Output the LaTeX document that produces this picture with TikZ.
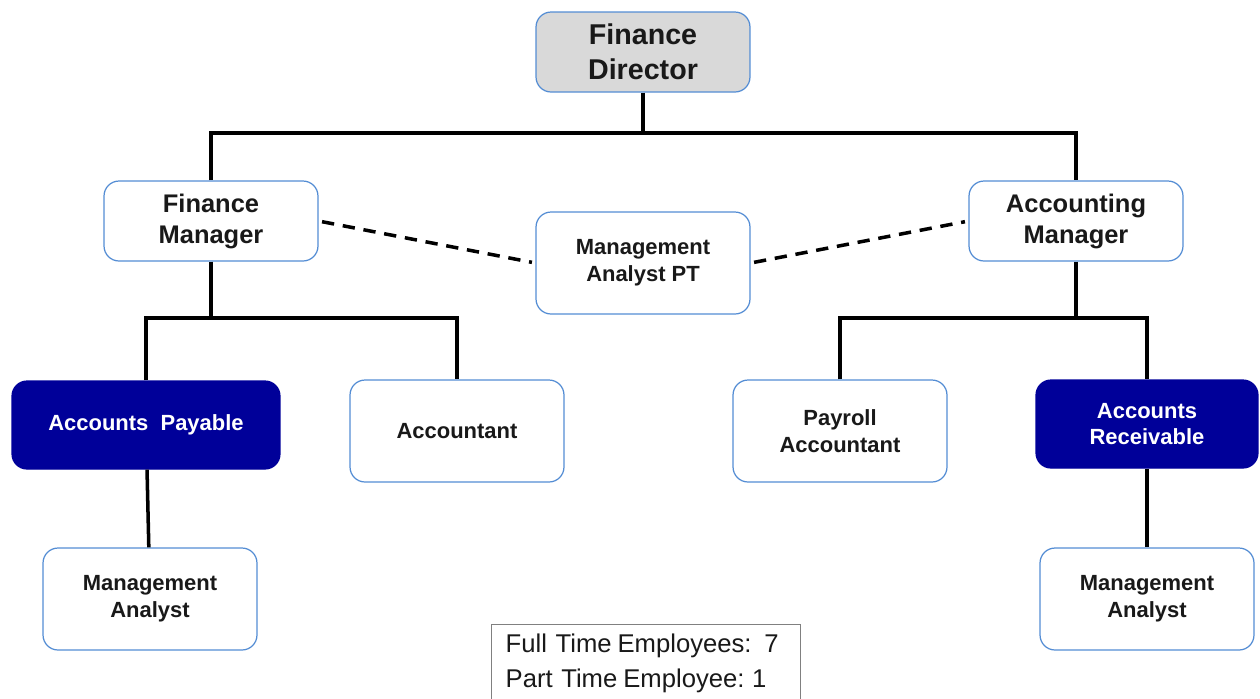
\documentclass[tikz,border=0pt]{standalone}
\usepackage{fontspec}
\setmainfont{Liberation Sans}
\usepackage{xcolor}
\usetikzlibrary{positioning}

\definecolor{boxline}{RGB}{84,141,212}
\definecolor{navyfill}{RGB}{0,0,153}
\definecolor{headfill}{RGB}{217,217,217}
\definecolor{inkgray}{RGB}{25,25,25}

\begin{document}
\begin{tikzpicture}[x=0.02cm, y=-0.02cm, line width=2pt,
    box/.style={draw=boxline, line width=0.7pt, rounded corners=0.3cm, fill=white, text=inkgray, align=center,
        minimum width=4.28cm, minimum height=2.04cm, font=\bfseries\fontsize{12.5}{15.3}\selectfont},
    bigbox/.style={box, minimum height=1.6cm, font=\bfseries\fontsize{14.5}{17.6}\selectfont},
    topbox/.style={bigbox, fill=headfill, font=\bfseries\fontsize{16.3}{19.8}\selectfont},
    navybox/.style={box, fill=navyfill, draw=navyfill, text=white, minimum height=1.76cm},
    dotted link/.style={dashed, dash pattern=on 7pt off 5pt, shorten <=2pt, shorten >=2pt}]
    \useasboundingbox (0,0) rectangle (1260,698);

    % top level
    \node[topbox] (fd) at (643,52) {Finance\\Director};
    \node[bigbox] (fm) at (211,221) {Finance\\Manager};
    \node[bigbox] (am) at (1076,221) {Accounting\\Manager};
    \node[box] (mapt) at (643,263) {Management\\Analyst PT};

    % finance side
    \node[navybox, minimum width=5.36cm] (ap) at (146,425) {Accounts\ \ Payable};
    \node[box] (acc) at (457,431) {Accountant};
    \node[box] (mal) at (150,599) {Management\\Analyst};

    % accounting side
    \node[box] (pa) at (840,431) {Payroll\\Accountant};
    \node[navybox, minimum width=4.44cm] (ar) at (1147,424) {Accounts\\Receivable};
    \node[box] (mar) at (1147,599) {Management\\Analyst};

    % headcount
    \node[draw=gray, line width=0.8pt, anchor=north west, text width=5.62cm, inner xsep=0.28cm,
        minimum height=1.56cm, align=left, text=inkgray, font=\fontsize{14.6}{19.8}\selectfont]
        (count) at (491,624) {Full Time\hspace{-0.1em} Employees:\hspace{0.5em}7\\Part Time\hspace{-0.1em} Employee:\hspace{0.3em}1};

    \coordinate (busA) at (643,133);
    \coordinate (busB) at (211,318);
    \coordinate (busC) at (1076,318);

    \draw (fd) -- (busA);
    \draw (fm.north) |- (busA) -| (am.north);
    \draw (fm) -- (busB);
    \draw (ap.north) |- (busB) -| (acc.north);
    \draw (am) -- (busC);
    \draw (pa.north) |- (busC) -| (ar.north);
    \draw (ap) -- (mal);
    \draw (ar) -- (mar);

    \draw[dotted link] (fm.east) -- (mapt.west);
    \draw[dotted link] (mapt.east) -- (am.west);
\end{tikzpicture}
\end{document}
